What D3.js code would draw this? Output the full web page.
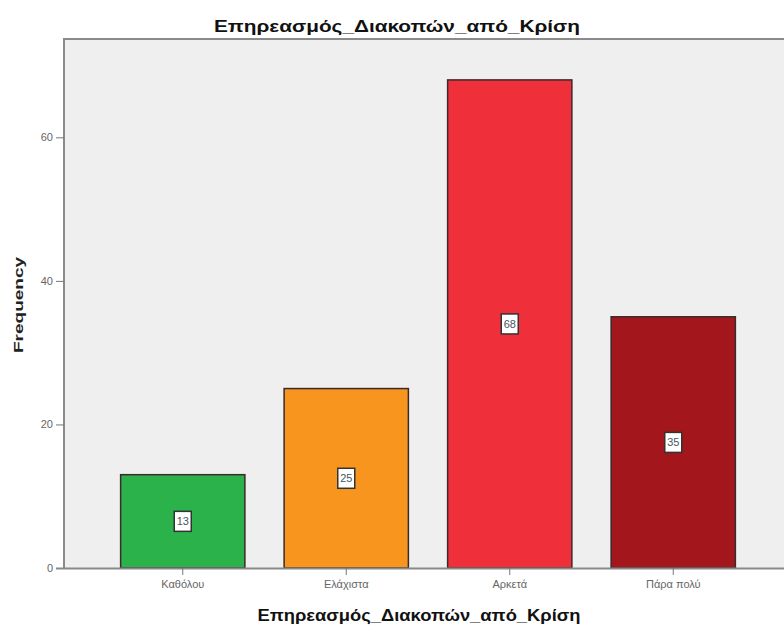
<!DOCTYPE html>
<html>
<head>
<meta charset="utf-8">
<script src="https://cdn.jsdelivr.net/npm/d3@7"></script>
<style>
  html, body { margin: 0; padding: 0; background: #ffffff; }
  svg { display: block; }
</style>
</head>
<body>
<svg id="chart" width="784" height="630"></svg>
<script>
// Frequency of responses per category
const categories = ["Καθόλου", "Ελάχιστα", "Αρκετά", "Πάρα πολύ"];
const frequencies = [13, 25, 68, 35];
const barColors = ["#2bb24a", "#f7951e", "#ef2f3a", "#a3161b"];
const yTicks = [0, 20, 40, 60];
const chartTitle = "Επηρεασμός_Διακοπών_από_Κρίση";
const xTitle = "Επηρεασμός_Διακοπών_από_Κρίση";
const yTitle = "Frequency";

const svg = d3.select("#chart");
const plot = { left: 64, top: 39, right: 790, bottom: 568 };
const font = "Liberation Sans, Arial, sans-serif";

const x = d3.scaleBand()
  .domain(categories)
  .range([101, 755])
  .paddingInner(0.24)
  .paddingOuter(0.12);

const y = d3.scaleLinear()
  .domain([0, 73.7])
  .range([plot.bottom, plot.top]);

// panel background
svg.append("rect")
  .attr("x", plot.left).attr("y", plot.top)
  .attr("width", plot.right - plot.left).attr("height", plot.bottom - plot.top)
  .attr("fill", "#efefef");

// frame on left and top
svg.append("path")
  .attr("d", `M${plot.left},${plot.bottom} V${plot.top} H${plot.right}`)
  .attr("fill", "none").attr("stroke", "#8a8a8a").attr("stroke-width", 2);

// bars
const bars = svg.append("g");
bars.selectAll("rect")
  .data(frequencies)
  .join("rect")
  .attr("x", (d, i) => x(categories[i]))
  .attr("y", d => y(d))
  .attr("width", x.bandwidth())
  .attr("height", d => y(0) - y(d))
  .attr("fill", (d, i) => barColors[i])
  .attr("stroke", "#3a2a2a")
  .attr("stroke-width", 1.5);

// value labels in boxes at mid-height
const labels = svg.append("g");
frequencies.forEach((d, i) => {
  const cx = x(categories[i]) + x.bandwidth() / 2;
  const cy = (y(d) + y(0)) / 2;
  labels.append("rect")
    .attr("x", cx - 8.5).attr("y", cy - 10)
    .attr("width", 17).attr("height", 20)
    .attr("fill", "#ffffff")
    .attr("stroke", "#333333").attr("stroke-width", 1.5);
  labels.append("text")
    .attr("x", cx).attr("y", cy + 4)
    .attr("text-anchor", "middle")
    .attr("font-family", font)
    .attr("font-size", 11)
    .attr("fill", "#4a5460")
    .text(d);
});

// y axis
const yAxis = svg.append("g")
  .attr("transform", `translate(${plot.left},0)`)
  .call(d3.axisLeft(y).tickValues(yTicks).tickSize(8).tickPadding(3));
yAxis.select(".domain").remove();
yAxis.selectAll("line").attr("stroke", "#777");
yAxis.selectAll("text")
  .attr("font-family", font)
  .attr("font-size", 11).attr("fill", "#666");

// x axis
const xAxis = svg.append("g")
  .attr("transform", `translate(0,${plot.bottom})`)
  .call(d3.axisBottom(x).tickSize(7).tickPadding(5));
xAxis.select(".domain")
  .attr("d", `M${plot.left - 8},0.5 H${plot.right}`)
  .attr("stroke", "#888").attr("stroke-width", 2);
xAxis.selectAll("line").attr("stroke", "#777");
xAxis.selectAll("text")
  .attr("font-family", font)
  .attr("font-size", 11).attr("fill", "#666");

// titles
svg.append("text")
  .attr("x", 397).attr("y", 32)
  .attr("text-anchor", "middle")
  .attr("font-family", font)
  .attr("font-weight", "bold").attr("font-size", 16)
  .attr("fill", "#111")
  .attr("textLength", 366).attr("lengthAdjust", "spacingAndGlyphs")
  .text(chartTitle);

svg.append("text")
  .attr("x", 419).attr("y", 621)
  .attr("text-anchor", "middle")
  .attr("font-family", font)
  .attr("font-weight", "bold").attr("font-size", 16)
  .attr("fill", "#111")
  .attr("textLength", 323).attr("lengthAdjust", "spacingAndGlyphs")
  .text(xTitle);

svg.append("text")
  .attr("transform", "translate(23,305) rotate(-90)")
  .attr("text-anchor", "middle")
  .attr("font-family", font)
  .attr("font-weight", "bold").attr("font-size", 13)
  .attr("fill", "#222")
  .attr("textLength", 96).attr("lengthAdjust", "spacingAndGlyphs")
  .text(yTitle);
</script>
</body>
</html>
